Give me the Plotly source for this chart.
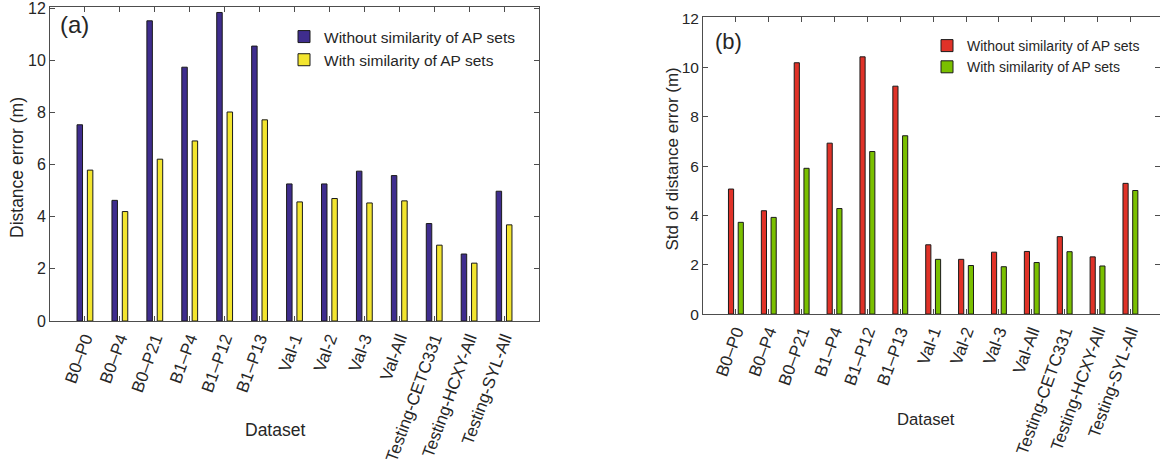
import plotly.graph_objects as go

categories = ["B0–P0", "B0–P4", "B0–P21", "B1–P4", "B1–P12", "B1–P13",
              "Val-1", "Val-2", "Val-3", "Val-All",
              "Testing-CETC331", "Testing-HCXY-All", "Testing-SYL-All"]
err_without = [7.53, 4.63, 11.52, 9.74, 11.84, 10.55, 5.26, 5.26, 5.75, 5.58, 3.74, 2.57, 4.98]
err_with = [5.79, 4.20, 6.21, 6.91, 8.02, 7.72, 4.57, 4.70, 4.53, 4.61, 2.91, 2.22, 3.69]
std_without = [5.07, 4.19, 10.19, 6.93, 10.43, 9.24, 2.81, 2.22, 2.51, 2.54, 3.14, 2.32, 5.30]
std_with = [3.72, 3.92, 5.91, 4.28, 6.59, 7.23, 2.22, 1.97, 1.92, 2.09, 2.53, 1.95, 5.01]
series_names = ["Without similarity of AP sets", "With similarity of AP sets"]
y_ticks = [0, 2, 4, 6, 8, 10, 12]

positions = list(range(1, len(categories) + 1))

FONT = "Liberation Sans, Arial, Helvetica, sans-serif"
TXT = "#262626"
AX = "#4d4d4d"
C_PURPLE = "#3f2d8e"
C_YELLOW = "#f3e52f"
C_RED = "#e03228"
C_GREEN = "#7ac000"
BW = 0.157

fig = go.Figure()
fig.add_trace(go.Bar(x=positions, y=err_without, name=series_names[0], width=BW, offset=-0.226,
                     marker=dict(color=C_PURPLE, line=dict(color="#1a1a1a", width=1)),
                     xaxis="x", yaxis="y", legend="legend"))
fig.add_trace(go.Bar(x=positions, y=err_with, name=series_names[1], width=BW, offset=0.07,
                     marker=dict(color=C_YELLOW, line=dict(color="#1a1a1a", width=1)),
                     xaxis="x", yaxis="y", legend="legend"))
fig.add_trace(go.Bar(x=positions, y=std_without, name=series_names[0], width=BW, offset=-0.226,
                     marker=dict(color=C_RED, line=dict(color="#1a1a1a", width=1)),
                     xaxis="x2", yaxis="y2", legend="legend2"))
fig.add_trace(go.Bar(x=positions, y=std_with, name=series_names[1], width=BW, offset=0.07,
                     marker=dict(color=C_GREEN, line=dict(color="#1a1a1a", width=1)),
                     xaxis="x2", yaxis="y2", legend="legend2"))

def xax(domain, rng, anchor):
    return dict(domain=domain, range=rng, anchor=anchor, tickmode="array",
                tickvals=positions, ticktext=categories, tickangle=-70,
                ticks="inside", ticklen=5, tickcolor=AX, showline=True, linecolor=AX,
                linewidth=1, mirror="ticks", showgrid=False, zeroline=False,
                tickfont=dict(family=FONT, size=17, color=TXT), automargin=False)

def yax(domain, rng, anchor, tsize):
    return dict(domain=domain, range=rng, anchor=anchor, tickmode="array",
                tickvals=y_ticks, ticks="inside", ticklen=5, tickcolor=AX,
                showline=True, linecolor=AX, linewidth=1, mirror="ticks",
                showgrid=False, zeroline=False, ticklabeloverflow="allow",
                tickfont=dict(family=FONT, size=tsize, color=TXT),
                automargin=False)

def note(text, x, y, size, angle=0):
    return dict(text=text, x=x, y=y, xref="paper", yref="paper", showarrow=False,
                xanchor="center", yanchor="middle", textangle=angle,
                font=dict(family=FONT, size=size, color=TXT))

# plot area: left 50px, top 7px, width 1110px, height 314px
def px_x(p):
    return (p - 50) / 1110.0

def px_y(p):
    return (321 - p) / 314.0

fig.update_layout(
    width=1160, height=463, template="none",
    paper_bgcolor="white", plot_bgcolor="white",
    margin=dict(l=50, r=0, t=7, b=142),
    barmode="overlay", showlegend=True,
    xaxis=xax([0, 0.4405], [0, 14], "y"),
    yaxis=yax([0, 1], [0, 12.05], "x", 16),
    xaxis2=xax([0.5883, 1], [0, 13.9], "y2"),
    yaxis2=yax([0.022, 0.967], [0, 12.03], "x2", 15.5),
    legend=dict(x=px_x(284), y=px_y(20), xanchor="left", yanchor="top", bgcolor="rgba(0,0,0,0)",
                font=dict(family=FONT, size=15.5, color=TXT), borderwidth=0),
    legend2=dict(x=px_x(927), y=px_y(30), xanchor="left", yanchor="top", bgcolor="rgba(0,0,0,0)",
                 font=dict(family=FONT, size=14, color=TXT), borderwidth=0),
    annotations=[
        note("(a)", px_x(74), px_y(25), 24),
        note("(b)", px_x(728), px_y(42), 22),
        note("Dataset", px_x(275), px_y(430), 17.5),
        note("Dataset", px_x(926), px_y(419), 16.7),
        note("Distance error (m)", px_x(17.5), px_y(167.5), 17.5, -90),
        note("Std of distance error (m)", px_x(672), px_y(159.5), 17, -90),
    ],
)

fig.write_html("out.html")
